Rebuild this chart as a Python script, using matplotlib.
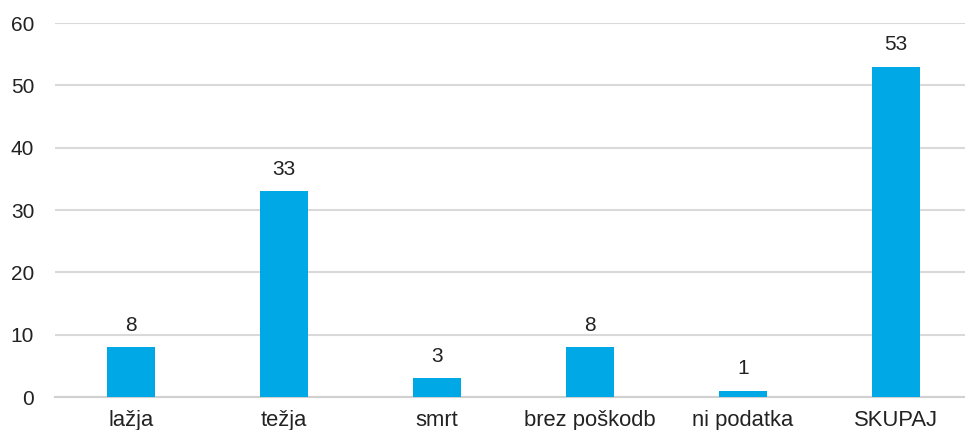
import numpy as np
import matplotlib.pyplot as plt

plt.rcParams['font.family'] = ['Liberation Sans', 'DejaVu Sans']

categories = ['lažja', 'težja', 'smrt', 'brez poškodb', 'ni podatka', 'SKUPAJ']
values = [8, 33, 3, 8, 1, 53]

fig = plt.figure(figsize=(9.65, 4.30), dpi=100)
ax = fig.add_axes([0.057, 0.0767, 0.943, 0.8698])

x = np.arange(len(categories))
bars = ax.bar(x, values, width=0.31, color='#00A8E6', zorder=3)

for xi, v in zip(x, values):
    ax.annotate(str(v), (xi, v), xytext=(0, 9), textcoords='offset points',
                ha='center', va='bottom', fontsize=15, color='#222222')

ax.set_xlim(-0.497, 5.45)
ax.set_ylim(0, 60)
ax.set_yticks(range(0, 61, 10))
ax.set_xticks(x)
ax.set_xticklabels(categories)
ax.yaxis.grid(True, color='#D9D9D9', linewidth=1.5, zorder=0)
ax.tick_params(axis='both', length=0, labelsize=15, colors='#222222')
ax.tick_params(axis='x', pad=9, labelsize=15.8)
ax.tick_params(axis='y', pad=15)
for s in ['top', 'right', 'left']:
    ax.spines[s].set_visible(False)
ax.spines['bottom'].set_color('#D0D0D0')
ax.spines['bottom'].set_linewidth(1.5)

fig.savefig('out.png', dpi=100)
